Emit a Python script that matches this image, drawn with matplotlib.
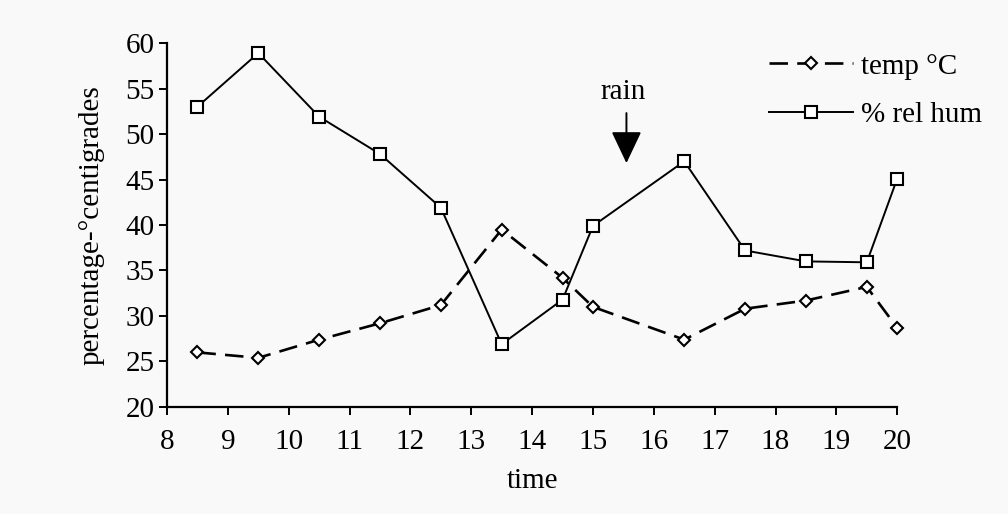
import matplotlib
matplotlib.use("Agg")
import matplotlib.pyplot as plt

# readings over the day
time = [8.5, 9.5, 10.5, 11.5, 12.5, 13.5, 14.5, 15, 16.5, 17.5, 18.5, 19.5, 20]
temp = [26.0, 25.4, 27.4, 29.2, 31.2, 39.5, 34.2, 31.0, 27.4, 30.8, 31.7, 33.2, 28.7]
hum = [53.0, 58.9, 51.9, 47.8, 41.9, 26.9, 31.8, 39.9, 47.0, 37.2, 36.0, 35.9, 45.1]
xticks = list(range(8, 21))
yticks = list(range(20, 61, 5))

plt.rcParams['font.family'] = ['Liberation Serif', 'DejaVu Serif']
plt.rcParams['font.size'] = 21

fig = plt.figure(figsize=(10.08, 5.14), dpi=100, facecolor='#f9f9f9')
ax = fig.add_axes([0.1657, 0.2082, 0.7244, 0.7081])
ax.set_facecolor('#f9f9f9')

ax.plot(time, temp, color='black', lw=1.9, dashes=(7, 3.5), marker='D', ms=6,
        mfc='white', mec='black', mew=1.5, label='temp °C', clip_on=False)
ax.plot(time, hum, color='black', lw=1.4, marker='s', ms=8.5,
        mfc='white', mec='black', mew=1.5, label='% rel hum', clip_on=False)

ax.set_xlim(8, 20)
ax.set_ylim(20, 60)
ax.set_xticks(xticks)
ax.set_yticks(yticks)
ax.spines['top'].set_visible(False)
ax.spines['right'].set_visible(False)
ax.spines['left'].set_linewidth(1.6)
ax.spines['bottom'].set_linewidth(1.6)
ax.tick_params(axis='y', direction='out', length=6, width=1.4, pad=3)
ax.tick_params(axis='x', direction='out', length=6, width=1.4, pad=10)
ax.set_xlabel('time', labelpad=9)
ax.set_ylabel('percentage-°centigrades', labelpad=15)

ax.text(15.5, 54.6, 'rain', ha='center', va='center')
ax.annotate('', xy=(15.55, 46.8), xytext=(15.55, 52.3),
            arrowprops=dict(arrowstyle='-|>,head_length=0.95,head_width=0.45',
                            color='black', lw=1.4, shrinkA=0, shrinkB=0))

ax.legend(loc='upper left', bbox_to_anchor=(0.788, 1.044), frameon=False,
          handlelength=2.9, numpoints=1, labelspacing=0.75, handletextpad=0.25)

plt.savefig('out.png', dpi=100, facecolor=fig.get_facecolor())
